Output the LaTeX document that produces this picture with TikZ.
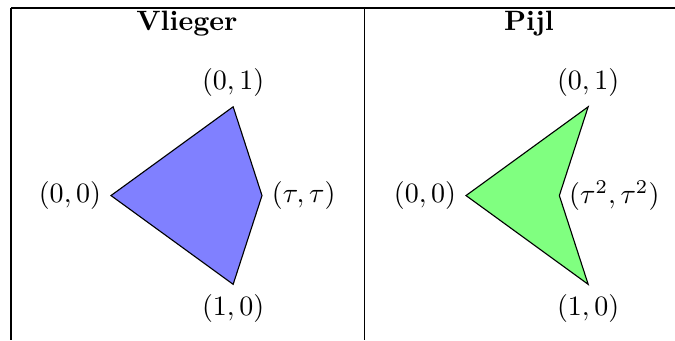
\documentclass[tikz,border=0pt]{standalone}
\usepackage{amsmath,amssymb}
\usepackage{tikz}
\tikzset{
  rule/.style={line width=0.4pt},
  tile/.style={draw=black,line width=0.4pt,line join=miter},
  head/.style={font=\bfseries,anchor=base}
}
\def\tauval{0.618034}
\def\tausq{0.381966}

\begin{document}
\begin{tikzpicture}[x=1.895cm,y=1.895cm]
  \useasboundingbox (0,0) rectangle (4.470,-2.252);
  % table rules
  \draw[rule] (0.073,-0.053) -- (4.470,-0.053);
  \draw[rule] (0.073,-0.053) -- (0.073,-2.252);
  \draw[rule] (2.411,-0.053) -- (2.411,-2.252);
  \node[head] (hkite) at (1.238,-0.202) {Vlieger};
  \node[head] (hdart) at (3.503,-0.202) {Pijl};
  % kite
  \begin{scope}[shift={(0.735,-1.295)},x={(1.533cm,-1.114cm)},y={(1.533cm,1.114cm)}]
    \fill[blue!50] (0,0) -- (1,0) -- (\tauval,\tauval) -- (0,1) -- cycle;
    \draw[tile] (0,0) -- (1,0) -- (\tauval,\tauval) -- (0,1) -- cycle;
    \node[left] (k00) at (0,0) {$(0,0)$};
    \node[below] (k10) at (1,0) {$(1,0)$};
    \node[right] (ktt) at (\tauval,\tauval) {$(\tau,\tau)$};
    \node[above] (k01) at (0,1) {$(0,1)$};
  \end{scope}
  % dart
  \begin{scope}[shift={(3.086,-1.295)},x={(1.533cm,-1.114cm)},y={(1.533cm,1.114cm)}]
    \fill[green!50] (0,0) -- (1,0) -- (\tausq,\tausq) -- (0,1) -- cycle;
    \draw[tile] (0,0) -- (1,0) -- (\tausq,\tausq) -- (0,1) -- cycle;
    \node[left] (d00) at (0,0) {$(0,0)$};
    \node[below] (d10) at (1,0) {$(1,0)$};
    \node[right] (dtt) at (\tausq,\tausq) {$(\tau^2,\tau^2)$};
    \node[above] (d01) at (0,1) {$(0,1)$};
  \end{scope}
\end{tikzpicture}
\end{document}
